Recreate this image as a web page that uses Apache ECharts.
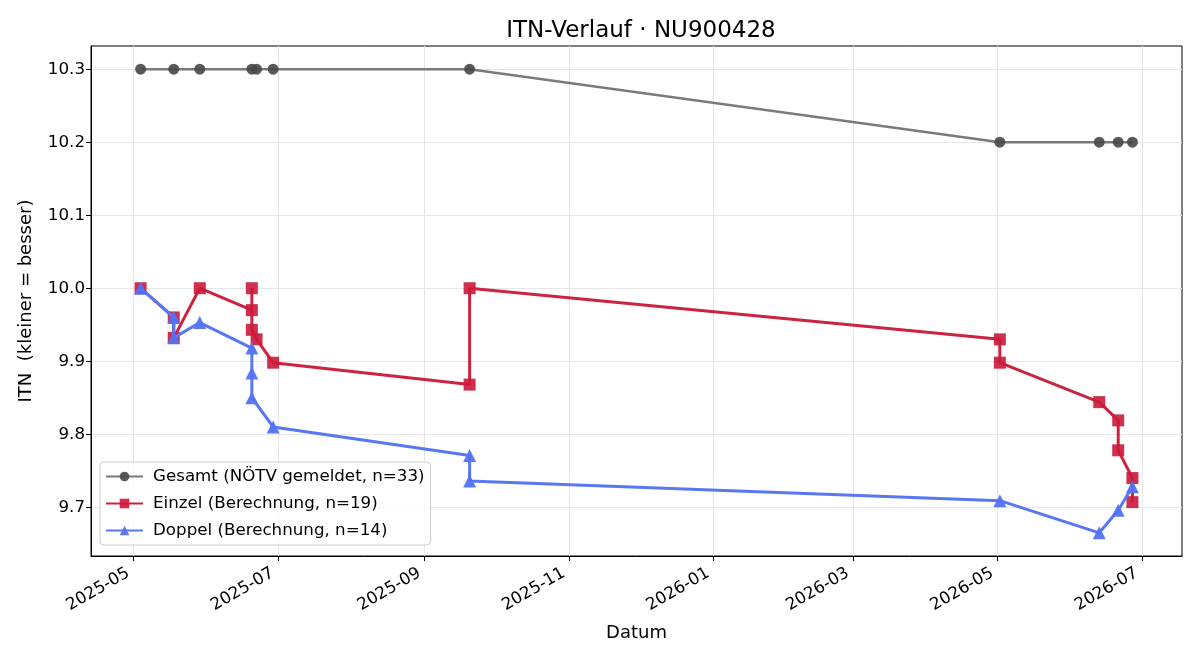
<!DOCTYPE html>
<html>
<head>
<meta charset="utf-8">
<script src="https://cdn.jsdelivr.net/npm/echarts@6/dist/echarts.min.js"></script>
<style>html,body{margin:0;padding:0;background:#fff}#c{width:1200px;height:660px}</style>
</head>
<body>
<div id="c"></div>
<script>
// ---- data ----
const gesamtDates = ['2025-05-04','2025-05-18','2025-05-29','2025-06-20','2025-06-22','2025-06-29','2025-09-20','2026-05-02','2026-06-13','2026-06-21','2026-06-27'];
const gesamtValues = [10.3,10.3,10.3,10.3,10.3,10.3,10.3,10.2,10.2,10.2,10.2];

const einzelDates = ['2025-05-04','2025-05-18','2025-05-18','2025-05-29','2025-06-20','2025-06-20','2025-06-20','2025-06-22','2025-06-29','2025-09-20','2025-09-20','2026-05-02','2026-05-02','2026-06-13','2026-06-21','2026-06-21','2026-06-27','2026-06-27'];
const einzelValues = [10.0,9.96,9.932,10.0,9.97,10.0,9.943,9.93,9.898,9.868,10.0,9.93,9.898,9.844,9.819,9.778,9.74,9.707];

const doppelDates = ['2025-05-04','2025-05-18','2025-05-18','2025-05-29','2025-06-20','2025-06-20','2025-06-20','2025-06-29','2025-09-20','2025-09-20','2026-05-02','2026-06-13','2026-06-21','2026-06-27'];
const doppelValues = [10.0,9.96,9.932,9.953,9.918,9.884,9.85,9.81,9.771,9.736,9.709,9.665,9.696,9.728];

const xTickLabels = ['2025-05','2025-07','2025-09','2025-11','2026-01','2026-03','2026-05','2026-07'];
const yTickValues = [9.7,9.8,9.9,10.0,10.1,10.2,10.3];

// ---- helpers ----
function ts(s){ const p=s.split('-').map(Number); return Date.UTC(p[0],p[1]-1,p[2]||1); }
function pairs(d,v){ return d.map((x,i)=>[ts(x),v[i]]); }
const allT = gesamtDates.concat(einzelDates, doppelDates).map(ts);
const tMin = Math.min(...allT), tMax = Math.max(...allT);
const tPad = (tMax - tMin) * 0.05;
const allV = gesamtValues.concat(einzelValues, doppelValues);
const vMin = Math.min(...allV), vMax = Math.max(...allV);
const vPad = (vMax - vMin) * 0.05;
const xTickValues = xTickLabels.map(ts);

const FONT = 'DejaVu Sans';
const chart = echarts.init(document.getElementById('c'), null, {renderer:'canvas'});
chart.setOption({
  animation:false,
  backgroundColor:'#fff',
  textStyle:{fontFamily:FONT},
  title:{
    text:'ITN-Verlauf · NU900428',
    left:636, top:15, textAlign:'center',
    textStyle:{fontFamily:FONT,fontSize:23,fontWeight:'normal',color:'#000'}
  },
  grid:{left:91,right:18,top:46,bottom:104,show:true,borderColor:'#000',borderWidth:1,containLabel:false},
  legend:{
    orient:'vertical', left:100, top:462,
    backgroundColor:'rgba(255,255,255,0.8)', borderColor:'#cccccc', borderWidth:1, borderRadius:4,
    padding:[6,6,6,5], itemWidth:37, itemHeight:12, itemGap:10,
    textStyle:{fontFamily:FONT,fontSize:16.7,color:'#000',padding:[0,0,0,5]},
    data:['Gesamt (NÖTV gemeldet, n=33)','Einzel (Berechnung, n=19)','Doppel (Berechnung, n=14)']
  },
  xAxis:{
    type:'value', min:tMin - tPad, max:tMax + tPad,
    name:'Datum', nameLocation:'middle', nameGap:68,
    nameTextStyle:{fontFamily:FONT,fontSize:18,color:'#000'},
    axisLine:{show:true,lineStyle:{color:'#000',width:1}},
    axisTick:{show:true,length:5,lineStyle:{color:'#000'},customValues:xTickValues},
    axisLabel:{show:true,rotate:30,fontFamily:FONT,fontSize:16.7,color:'#000',margin:13,padding:[0,6,0,0],customValues:xTickValues,
      formatter:function(v){ const d=new Date(v); return d.getUTCFullYear()+'-'+String(d.getUTCMonth()+1).padStart(2,'0'); }},
    splitLine:{show:true,lineStyle:{color:'#e6e6e6',width:1}}
  },
  yAxis:{
    type:'value', min:vMin - vPad, max:vMax + vPad,
    name:'ITN  (kleiner = besser)', nameLocation:'middle', nameGap:56, nameRotate:90,
    nameTextStyle:{fontFamily:FONT,fontSize:18,color:'#000'},
    axisLine:{show:true,lineStyle:{color:'#000',width:1}},
    axisTick:{show:true,length:5,lineStyle:{color:'#000'},customValues:yTickValues},
    axisLabel:{show:true,fontFamily:FONT,fontSize:16.7,color:'#000',margin:6,customValues:yTickValues,
      formatter:function(v){ return Number(v).toFixed(1); }},
    splitLine:{show:true,lineStyle:{color:'#e6e6e6',width:1}}
  },
  series:[
    {name:'Gesamt (NÖTV gemeldet, n=33)', type:'line', data:pairs(gesamtDates,gesamtValues),
      symbol:'circle', symbolSize:11, lineStyle:{color:'#7a7a7a',width:2.5},
      itemStyle:{color:'#474747',opacity:0.9}, z:2},
    {name:'Einzel (Berechnung, n=19)', type:'line', data:pairs(einzelDates,einzelValues),
      symbol:'rect', symbolSize:12, lineStyle:{color:'#cb2340',width:3},
      itemStyle:{color:'#cb1a3a',opacity:0.9}, z:3},
    {name:'Doppel (Berechnung, n=14)', type:'line', data:pairs(doppelDates,doppelValues),
      symbol:'triangle', symbolSize:13, lineStyle:{color:'#5877f2',width:3},
      itemStyle:{color:'#5372f3',opacity:0.95}, z:4}
  ]
});
</script>
</body>
</html>
